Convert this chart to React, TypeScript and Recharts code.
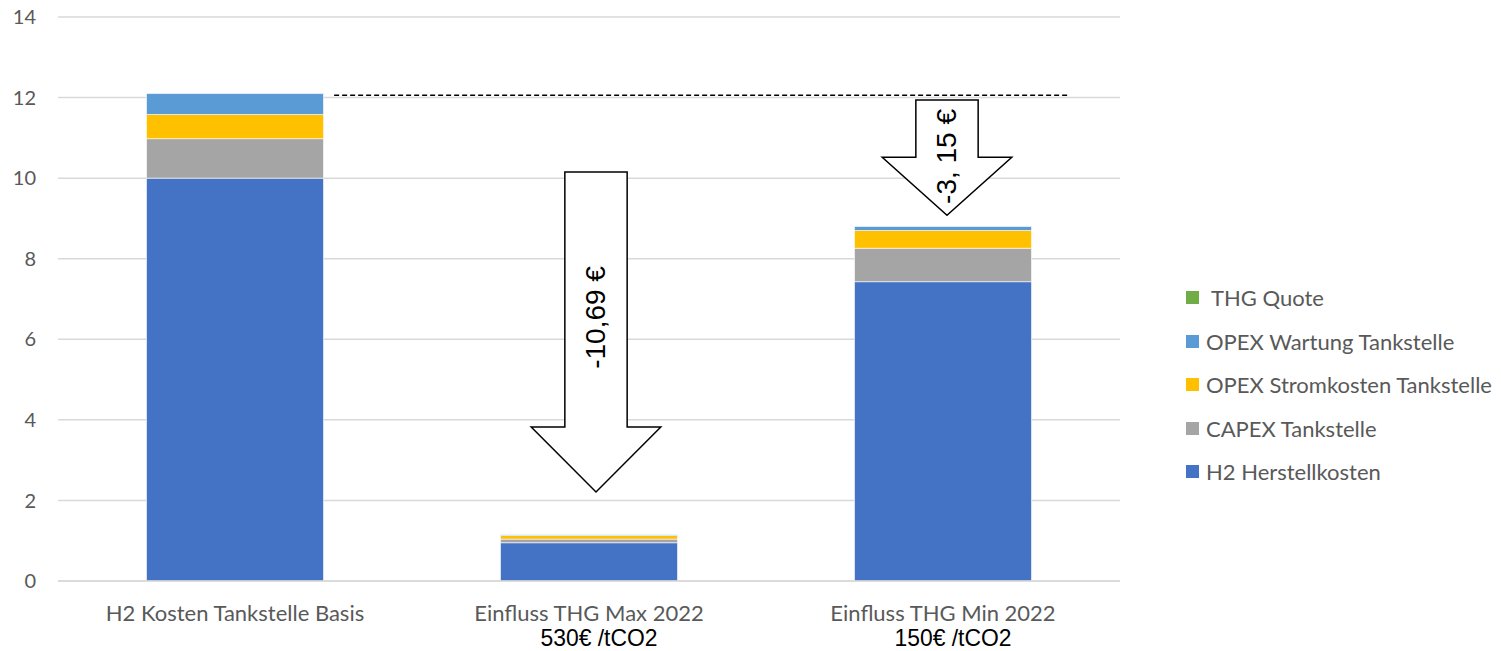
import React from "react";
import {
  Bar,
  BarChart,
  CartesianGrid,
  Legend,
  ReferenceArea,
  XAxis,
  YAxis,
} from "recharts";

// categories and the second label line under two of them
const categories = [
  "H2 Kosten Tankstelle Basis",
  "Einfluss THG Max 2022",
  "Einfluss THG Min 2022",
];
const subtitles = ["", "530€ /tCO2", "150€ /tCO2"];

// stacked cost components (€/kg)
const h2Herstellkosten = [10.0, 0.95, 7.43];
const capexTankstelle = [0.98, 0.09, 0.83];
const opexStromkosten = [0.6, 0.09, 0.44];
const opexWartung = [0.52, 0.02, 0.1];
const thgQuote = [0, 0, 0];

const yTicks = [0, 2, 4, 6, 8, 10, 12, 14];

// THG savings arrows: top, neck and tip of each arrow in chart units
const arrowLabels = ["-10,69 €", "-3, 15 €"];
const arrowCategory = [categories[1], categories[2]];
const arrowTop = [10.15, 11.94];
const arrowNeck = [3.82, 10.52];
const arrowTip = [2.21, 9.08];

const series = [
  { key: "h2", name: "H2 Herstellkosten", color: "#4472C4", values: h2Herstellkosten },
  { key: "capex", name: "CAPEX Tankstelle", color: "#A5A5A5", values: capexTankstelle },
  { key: "strom", name: "OPEX Stromkosten Tankstelle", color: "#FFC000", values: opexStromkosten },
  { key: "wartung", name: "OPEX Wartung Tankstelle", color: "#5B9BD5", values: opexWartung },
  { key: "thg", name: "THG Quote", color: "#70AD47", values: thgQuote },
];

const data = categories.map((name, i) => {
  const row: Record<string, any> = { name };
  series.forEach((s) => (row[s.key] = s.values[i]));
  return row;
});

const baseTotal = series.reduce((sum, s) => sum + s.values[0], 0);

const FONT = "Lato, 'Open Sans', sans-serif";
const ARIAL = "'Liberation Sans', Arial, sans-serif";

const CategoryTick = (props: any) => {
  const { x, y, payload, index } = props;
  return (
    <g>
      <text x={x} y={y + 32} textAnchor="middle" fill="#595959" fontSize={22} fontFamily={FONT}>
        {payload.value}
      </text>
      {subtitles[index] ? (
        <text
          x={x + 10}
          y={y + 57}
          textAnchor="middle"
          fill="#000"
          fontSize={24}
          fontFamily={ARIAL}
          textLength={117}
          lengthAdjust="spacingAndGlyphs"
        >
          {subtitles[index]}
        </text>
      ) : null}
    </g>
  );
};

const makeArrow = (i: number) => (props: any) => {
  const { x, y, width, height } = props;
  if (width == null || height == null) return null;
  const band = width;
  const cx = x + band / 2 + (i === 0 ? 7 : 4);
  const top = y;
  const tip = y + height;
  const neck = top + ((arrowTop[i] - arrowNeck[i]) / (arrowTop[i] - arrowTip[i])) * height;
  const shaft = band * 0.088;
  const head = band * 0.183;
  const d = [
    `M${cx - shaft},${top}`,
    `L${cx + shaft},${top}`,
    `L${cx + shaft},${neck}`,
    `L${cx + head},${neck}`,
    `L${cx},${tip}`,
    `L${cx - head},${neck}`,
    `L${cx - shaft},${neck}`,
    "Z",
  ].join(" ");
  const ty = i === 0 ? top + (neck - top) * 0.57 : top + (tip - top) * 0.49;
  return (
    <g>
      <path d={d} fill="#fff" stroke="#000" strokeWidth={1.5} />
      <text
        x={cx}
        y={ty}
        transform={`rotate(-90, ${cx}, ${ty})`}
        textAnchor="middle"
        dominantBaseline="central"
        fontSize={28}
        fontFamily={ARIAL}
        fill="#000"
      >
        {arrowLabels[i]}
      </text>
    </g>
  );
};

const DashedLine = (props: any) => {
  const { x, y, width } = props;
  if (width == null) return null;
  const band = width / 3;
  return (
    <line
      x1={x + band * 0.78}
      x2={x + width - band * 0.147}
      y1={y}
      y2={y}
      stroke="#000"
      strokeWidth={1.5}
      strokeDasharray="5 3"
    />
  );
};

const renderLegend = (props: any) => {
  const payload = [...(props.payload || [])];
  const order = series.map((s) => s.name).reverse();
  payload.sort((a: any, b: any) => order.indexOf(a.value) - order.indexOf(b.value));
  return (
    <ul style={{ listStyle: "none", margin: 0, padding: 0 }}>
      {payload.map((item: any) => (
        <li
          key={item.value}
          style={{
            display: "flex",
            alignItems: "center",
            height: 43.5,
            fontFamily: FONT,
            fontSize: 22,
            color: "#595959",
            whiteSpace: "nowrap",
          }}
        >
          <span
            style={{
              display: "inline-block",
              width: 13,
              height: 13,
              background: item.color,
              marginRight: item.value === "THG Quote" ? 12 : 7,
            }}
          />
          {item.value}
        </li>
      ))}
    </ul>
  );
};

export default function App() {
  return (
    <div style={{ width: 1501, height: 651, background: "#fff" }}>
      <style>{`body{margin:0}`}</style>
      <BarChart
        width={1501}
        height={651}
        data={data}
        margin={{ top: 17, right: 381, bottom: 0, left: 0 }}
        barCategoryGap="25%"
      >
        <CartesianGrid vertical={false} stroke="#d9d9d9" strokeWidth={1.5} />
        <XAxis
          dataKey="name"
          height={70}
          axisLine={{ stroke: "#d9d9d9", strokeWidth: 1.5 }}
          tickLine={false}
          interval={0}
          tick={<CategoryTick />}
        />
        <YAxis
          width={58}
          domain={[0, 14]}
          ticks={yTicks}
          axisLine={false}
          tickLine={false}
          tickSize={0}
          tickMargin={22}
          tick={{ fill: "#595959", fontSize: 20, fontFamily: FONT }}
        />
        {series.map((s) => (
          <Bar
            key={s.key}
            dataKey={s.key}
            name={s.name}
            stackId="a"
            fill={s.color}
            stroke="#ffffff"
            strokeWidth={0.6}
            isAnimationActive={false}
          />
        ))}
        <ReferenceArea
          x1={categories[0]}
          x2={categories[2]}
          y1={baseTotal - 0.04}
          y2={baseTotal - 0.04}
          shape={DashedLine}
          ifOverflow="visible"
        />
        {arrowLabels.map((_, i) => (
          <ReferenceArea
            key={i}
            x1={arrowCategory[i]}
            x2={arrowCategory[i]}
            y1={arrowTop[i]}
            y2={arrowTip[i]}
            shape={makeArrow(i)}
            ifOverflow="visible"
          />
        ))}
        <Legend
          layout="vertical"
          align="center"
          verticalAlign="middle"
          wrapperStyle={{ left: 1186, top: 276, width: 315 }}
          content={renderLegend}
        />
      </BarChart>
    </div>
  );
}
